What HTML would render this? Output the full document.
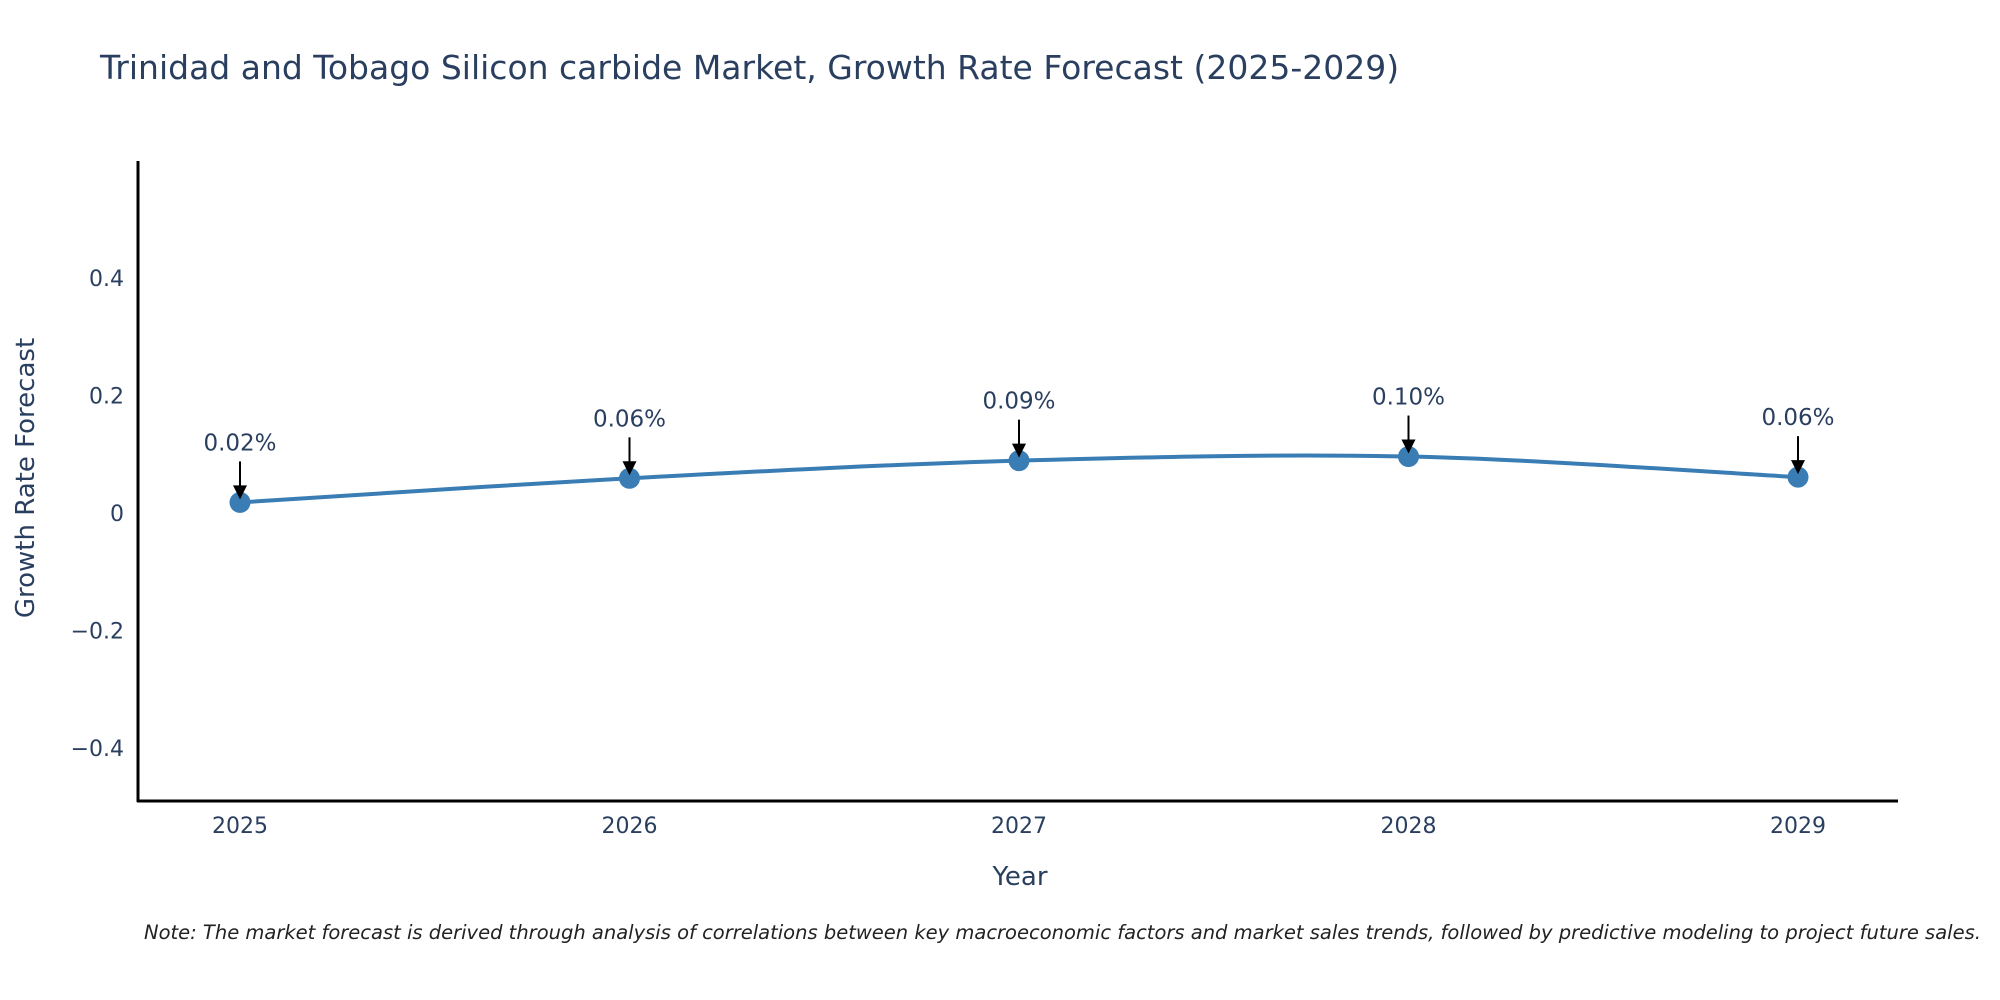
<!DOCTYPE html>
<html><head><meta charset="utf-8"><style>
html,body{margin:0;padding:0;background:#fff;}
svg{display:block;font-family:"DejaVu Sans","Liberation Sans",sans-serif;}
</style></head><body>
<svg id="chart" width="2000" height="1000" viewBox="0 0 2000 1000">
<text x="100" y="79" font-size="33" fill="#2a3f5f">Trinidad and Tobago Silicon carbide Market, Growth Rate Forecast (2025-2029)</text>
<g id="yticks"></g>
<g id="xticks"></g>
<path id="line" fill="none" stroke="#3a7db5" stroke-width="4"/>
<g id="points"></g>
<g id="annots"></g>
<line x1="138" y1="161" x2="138" y2="802" stroke="#000" stroke-width="3"/>
<line x1="137" y1="801" x2="1898" y2="801" stroke="#000" stroke-width="3"/>
<text x="1020" y="885" font-size="26" fill="#2a3f5f" text-anchor="middle">Year</text>
<text transform="translate(34,478) rotate(-90)" font-size="26" fill="#2a3f5f" text-anchor="middle">Growth Rate Forecast</text>
<text x="144" y="939" font-size="19.5" font-style="italic" fill="#222">Note: The market forecast is derived through analysis of correlations between key macroeconomic factors and market sales trends, followed by predictive modeling to project future sales.</text>
</svg>
<script>
const years = [2025, 2026, 2027, 2028, 2029];
const values = [0.018, 0.059, 0.089, 0.096, 0.061];
const labels = ["0.02%", "0.06%", "0.09%", "0.10%", "0.06%"];
const yTicks = [-0.4, -0.2, 0, 0.2, 0.4];
const yTickLabels = ["\u22120.4", "\u22120.2", "0", "0.2", "0.4"];

const NS = "http://www.w3.org/2000/svg";
const xScale = y => 240 + (y - 2025) * 389.5;
const yScale = v => 513 - v * 588;
function mk(tag, attrs, parent){const e=document.createElementNS(NS,tag);for(const k in attrs)e.setAttribute(k,attrs[k]);parent.appendChild(e);return e;}

const yt = document.getElementById('yticks');
yTicks.forEach((t,i)=>{
  const e = mk('text',{x:124,y:yScale(t)+8,'font-size':22,fill:'#2a3f5f','text-anchor':'end'},yt);
  
  
  e.textContent = yTickLabels[i];
});
const xt = document.getElementById('xticks');
years.forEach(y=>{
  const e = mk('text',{x:xScale(y),y:833,'font-size':22,fill:'#2a3f5f','text-anchor':'middle'},xt);
  
  
  e.textContent = String(y);
});

const pts = years.map((y,i)=>[xScale(y), yScale(values[i])]);
let d = `M${pts[0][0]},${pts[0][1]}`;
const s = 1/6;
for(let i=0;i<pts.length-1;i++){
  const p0=pts[Math.max(0,i-1)],p1=pts[i],p2=pts[i+1],p3=pts[Math.min(pts.length-1,i+2)];
  d += ` C${p1[0]+(p2[0]-p0[0])*s},${p1[1]+(p2[1]-p0[1])*s} ${p2[0]-(p3[0]-p1[0])*s},${p2[1]-(p3[1]-p1[1])*s} ${p2[0]},${p2[1]}`;
}
document.getElementById('line').setAttribute('d', d);

const pg = document.getElementById('points');
const ag = document.getElementById('annots');
pts.forEach((p,i)=>{
  const c = mk('circle',{cx:p[0],cy:p[1],r:10.5,fill:'#3a7db5'},pg);
  
  
  const l = mk('line',{x1:p[0],y1:p[1]-41,x2:p[0],y2:p[1]-14,stroke:'#000','stroke-width':2},ag);
  
  
  const h = mk('polygon',{points:`${p[0]-7},${p[1]-17} ${p[0]+7},${p[1]-17} ${p[0]},${p[1]-3}`,fill:'#000'},ag);
  
  
  const t = mk('text',{x:p[0],y:p[1]-52,'font-size':23,fill:'#2a3f5f','text-anchor':'middle'},ag);
  
  
  t.textContent = labels[i];
});
</script>
</body></html>
